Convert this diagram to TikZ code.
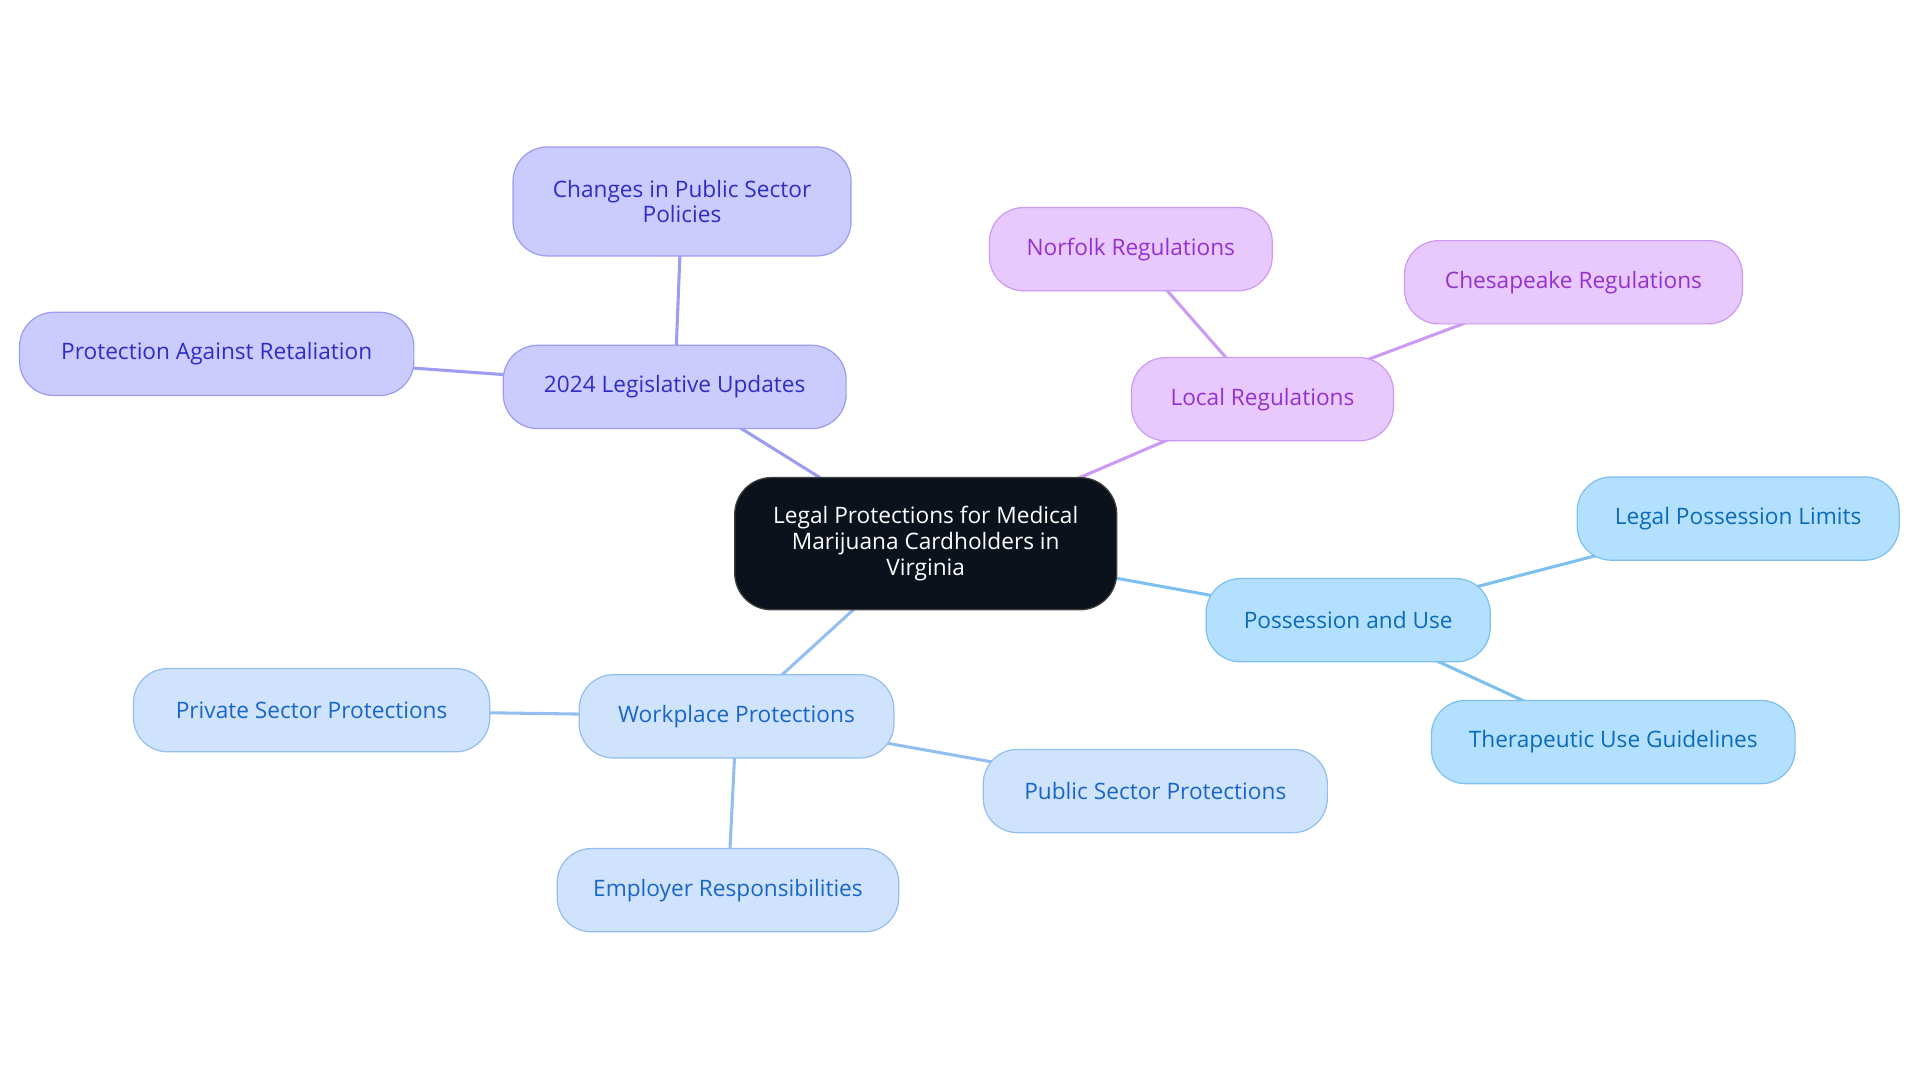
\documentclass[tikz,border=0pt]{standalone}
\usepackage{fontspec}
\setmainfont{Open Sans}
\usetikzlibrary{backgrounds}
\definecolor{rootfill}{HTML}{0C121C}
\definecolor{legfill}{HTML}{CBCBFD}
\definecolor{legline}{HTML}{9C9CF2}
\definecolor{legtext}{HTML}{2E2EC4}
\definecolor{locfill}{HTML}{E8C9FD}
\definecolor{locline}{HTML}{CC99F5}
\definecolor{loctext}{HTML}{9431D0}
\definecolor{posfill}{HTML}{B3E0FE}
\definecolor{posline}{HTML}{7DC0F0}
\definecolor{postext}{HTML}{0B6BB8}
\definecolor{wrkfill}{HTML}{CFE3FC}
\definecolor{wrkline}{HTML}{93BEF0}
\definecolor{wrktext}{HTML}{1A66C8}
\begin{document}
\begin{tikzpicture}[
        x=1pt, y=-1pt,
        idea/.style = {rectangle, rounded corners=28pt, line width=1pt, minimum height=68pt,
            inner xsep=0pt, align=center, font=\fontsize{18.5}{21}\selectfont},
        root/.style = {idea, fill=rootfill, draw=black!75, text=white, rounded corners=30pt},
        leg/.style  = {idea, fill=legfill, draw=legline, text=legtext},
        loc/.style  = {idea, fill=locfill, draw=locline, text=loctext},
        poss/.style = {idea, fill=posfill, draw=posline, text=postext},
        wrk/.style  = {idea, fill=wrkfill, draw=wrkline, text=wrktext},
        link/.style = {line width=2.5pt}
    ]
        \useasboundingbox (0,0) rectangle (1568,884);
        % centre
        \node[root, minimum width=312pt, minimum height=108pt] (main) at (756,444)
            {Legal Protections for Medical\\Marijuana Cardholders in\\Virginia};
        % 2024 updates
        \node[leg, minimum width=280pt] (updates) at (551,316) {2024 Legislative Updates};
        \node[leg, minimum width=276pt, minimum height=89pt] (policies) at (557,164.5)
            {Changes in Public Sector\\Policies};
        \node[leg, minimum width=322pt] (retal) at (177,289) {Protection Against Retaliation};
        % local rules
        \node[loc, minimum width=214pt] (local) at (1031,326) {Local Regulations};
        \node[loc, minimum width=231pt] (norfolk) at (923.5,203.5) {Norfolk Regulations};
        \node[loc, minimum width=276pt] (chesa) at (1285,230.5) {Chesapeake Regulations};
        % possession
        \node[poss, minimum width=232pt] (possess) at (1101,506.5) {Possession and Use};
        \node[poss, minimum width=263pt] (limits) at (1419.5,423.5) {Legal Possession Limits};
        \node[poss, minimum width=297pt] (thera) at (1317.5,606) {Therapeutic Use Guidelines};
        % workplace
        \node[wrk, minimum width=257pt] (work) at (601.5,585) {Workplace Protections};
        \node[wrk, minimum width=291pt] (private) at (254.5,580) {Private Sector Protections};
        \node[wrk, minimum width=281pt] (public) at (943.5,646) {Public Sector Protections};
        \node[wrk, minimum width=279pt] (employer) at (594.5,727) {Employer Responsibilities};
        \begin{scope}[on background layer]
            \draw[link, legline] (main.center) -- (updates.center);
            \draw[link, legline] (updates.center) -- (policies.center);
            \draw[link, legline] (updates.center) -- (retal.center);
            \draw[link, locline] (main.center) -- (local.center);
            \draw[link, locline] (local.center) -- (norfolk.center);
            \draw[link, locline] (local.center) -- (chesa.center);
            \draw[link, posline] (main.center) -- (possess.center);
            \draw[link, posline] (possess.center) -- (limits.center);
            \draw[link, posline] (possess.center) -- (thera.center);
            \draw[link, wrkline] (main.center) -- (work.center);
            \draw[link, wrkline] (work.center) -- (private.center);
            \draw[link, wrkline] (work.center) -- (public.center);
            \draw[link, wrkline] (work.center) -- (employer.center);
        \end{scope}
\end{tikzpicture}
\end{document}
